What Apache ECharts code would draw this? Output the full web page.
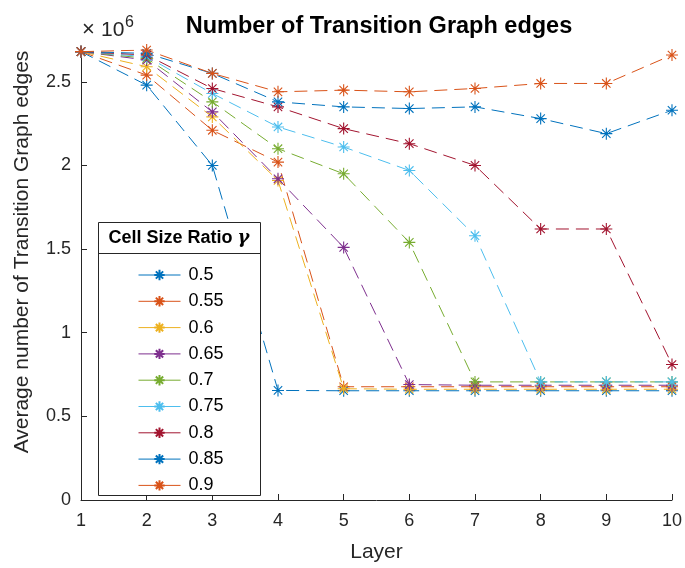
<!DOCTYPE html>
<html>
<head>
<meta charset="utf-8">
<script src="https://cdn.jsdelivr.net/npm/echarts@6/dist/echarts.min.js"></script>
<style>
  html, body { margin: 0; padding: 0; background: #fff; }
  #chart { width: 685px; height: 568px; }
</style>
</head>
<body>
<div id="chart"></div>
<script>
// values are in units of 1e6 edges
const layers = [1, 2, 3, 4, 5, 6, 7, 8, 9, 10];
const ratios = ["0.5", "0.55", "0.6", "0.65", "0.7", "0.75", "0.8", "0.85", "0.9"];
const r050 = [2.68, 2.48, 2.00, 0.655, 0.653, 0.653, 0.653, 0.653, 0.653, 0.653];
const r055 = [2.68, 2.54, 2.21, 2.02, 0.677, 0.677, 0.677, 0.677, 0.677, 0.677];
const r060 = [2.68, 2.59, 2.29, 1.91, 0.665, 0.662, 0.662, 0.662, 0.662, 0.662];
const r065 = [2.68, 2.63, 2.32, 1.92, 1.51, 0.69, 0.686, 0.686, 0.686, 0.686];
const r070 = [2.68, 2.64, 2.38, 2.10, 1.95, 1.54, 0.706, 0.706, 0.706, 0.706];
const r075 = [2.68, 2.65, 2.43, 2.23, 2.11, 1.97, 1.58, 0.706, 0.706, 0.706];
const r080 = [2.68, 2.66, 2.46, 2.35, 2.22, 2.13, 2.00, 1.62, 1.62, 0.81];
const r085 = [2.68, 2.67, 2.55, 2.38, 2.35, 2.34, 2.35, 2.28, 2.19, 2.33];
const r090 = [2.68, 2.69, 2.55, 2.44, 2.45, 2.44, 2.46, 2.49, 2.49, 2.66];
const yTicks = [0, 0.5, 1, 1.5, 2, 2.5];

const allValues = [r050, r055, r060, r065, r070, r075, r080, r085, r090];
const colors = ["#0072BD", "#D95319", "#EDB120", "#7E2F8E", "#77AC30",
                "#4DBEEE", "#A2142F", "#0072BD", "#D95319"];

const star = "path://M0,5L10,5M5,0L5,10M1.5,1.5L8.5,8.5M1.5,8.5L8.5,1.5";
const axisColor = "#262626";
const font = "Liberation Sans, Arial, sans-serif";

const series = ratios.map((name, i) => ({
  name,
  type: "line",
  data: layers.map((x, j) => [x, allValues[i][j]]),
  color: colors[i],
  symbol: star,
  symbolSize: 12,
  showAllSymbol: true,
  lineStyle: { width: 1, type: [13, 7] },
  itemStyle: { color: colors[i], borderColor: colors[i], borderWidth: 1.1 },
  emphasis: { disabled: true },
  animation: false
}));

const chart = echarts.init(document.getElementById("chart"));
chart.setOption({
  animation: false,
  textStyle: { fontFamily: font },
  grid: { left: 81, right: 13, top: 50, bottom: 65, containLabel: false },
  title: {
    text: "Number of Transition Graph edges",
    left: 374, top: 10, textAlign: "center",
    textStyle: { fontFamily: font, fontSize: 23.5, fontWeight: "bold", color: "#000" }
  },
  xAxis: {
    type: "value", min: 1, max: 10, interval: 1,
    name: "Layer", nameLocation: "middle", nameGap: 42,
    nameTextStyle: { fontSize: 21, color: axisColor },
    axisLine: { lineStyle: { color: axisColor, width: 1 } },
    axisTick: { inside: true, length: 6, lineStyle: { color: axisColor } },
    axisLabel: { fontSize: 18, color: axisColor, margin: 12 },
    splitLine: { show: false }
  },
  yAxis: {
    type: "value", min: 0, max: 2.69,
    axisLine: { show: true, lineStyle: { color: axisColor, width: 1 } },
    axisTick: { show: true, inside: true, length: 6, lineStyle: { color: axisColor }, customValues: yTicks },
    axisLabel: { fontSize: 18, color: axisColor, margin: 10, customValues: yTicks },
    splitLine: { show: false }
  },
  legend: {
    orient: "vertical",
    left: 133, top: 260,
    itemWidth: 42, itemHeight: 13, itemGap: 6.3,
    lineStyle: { type: "solid", width: 1 },
    textStyle: { fontFamily: font, fontSize: 18, color: "#000", lineHeight: 20, padding: [0, 0, 0, 3] },
    data: ratios,
    selectedMode: false,
    z: 10
  },
  graphic: [
    {
      type: "rect", z: 8,
      shape: { x: 98.5, y: 222.5, width: 162, height: 273 },
      style: { fill: "#fff", stroke: "#262626", lineWidth: 1 }
    },
    {
      type: "line", z: 9,
      shape: { x1: 98.5, y1: 253.5, x2: 260.5, y2: 253.5 },
      style: { stroke: "#262626", lineWidth: 1 }
    },
    {
      type: "text", z: 9, x: 179, y: 238,
      style: {
        text: "Cell Size Ratio {g|γ}",
        rich: { g: { fontFamily: "DejaVu Serif", fontStyle: "italic", fontSize: 18, fontWeight: "bold", fill: "#000" } },
        fontFamily: font, fontSize: 18, fontWeight: "bold", fill: "#000",
        align: "center", verticalAlign: "middle"
      }
    },
    {
      type: "text", x: 82, y: 19,
      style: { text: "×", fontFamily: font, fontSize: 22, fill: axisColor, verticalAlign: "top" }
    },
    {
      type: "text", x: 101, y: 20,
      style: { text: "10", fontFamily: font, fontSize: 21, fill: axisColor, verticalAlign: "top" }
    },
    {
      type: "text", x: 125, y: 15,
      style: { text: "6", fontFamily: font, fontSize: 16, fill: axisColor, verticalAlign: "top" }
    },
    {
      type: "text", x: 22, y: 252, rotation: Math.PI / 2,
      style: {
        text: "Average number of Transition Graph edges",
        fontFamily: font, fontSize: 21, fill: axisColor,
        align: "center", verticalAlign: "middle"
      }
    }
  ],
  series
});
</script>
</body>
</html>
